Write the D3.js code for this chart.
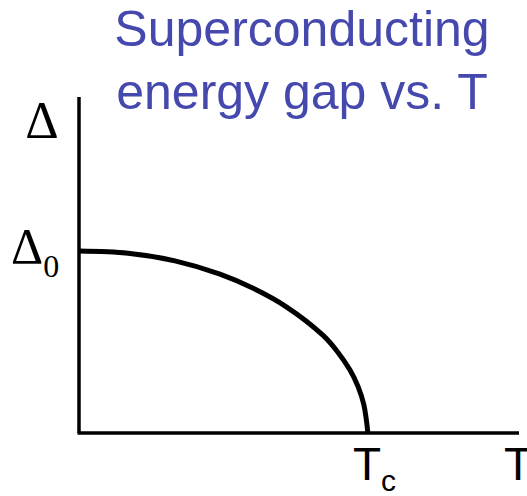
<!DOCTYPE html>
<html>
<head>
<meta charset="utf-8">
<script src="https://cdn.jsdelivr.net/npm/d3@7"></script>
<style>
  body { margin: 0; background: #fff; }
  svg { display: block; }
</style>
</head>
<body>
<div id="chart"></div>
<script>
// gap curve: T/Tc vs delta/delta0
const tRatio = [0, 0.17, 0.332, 0.488, 0.603, 0.719, 0.845, 0.892, 0.938, 0.966, 0.986, 1.0];
const gapRatio = [1.0, 0.988, 0.946, 0.873, 0.795, 0.692, 0.536, 0.452, 0.346, 0.255, 0.155, 0];
const titleLines = ["Superconducting", "energy gap vs. T"];

const width = 527,
  height = 496;

const svg = d3.select("#chart")
  .append("svg")
  .attr("width", width)
  .attr("height", height);

// axis extents go past Tc and delta0
const x = d3.scaleLinear().domain([0, 1.523]).range([79, 519]);
const y = d3.scaleLinear().domain([0, 1.846]).range([433, 97]);

// title
svg.append("g")
  .selectAll("text")
  .data(titleLines)
  .join("text")
  .attr("x", 302)
  .attr("y", (d, i) => 46 + i * 63)
  .attr("text-anchor", "middle")
  .attr("font-family", "Liberation Sans, Arial, sans-serif")
  .attr("font-size", 50)
  .attr("fill", "#4548ad")
  .text(d => d);

// axes, just plain lines
svg.append("line")
  .attr("x1", x(0)).attr("y1", y(0))
  .attr("x2", x(0)).attr("y2", y(1.846))
  .attr("stroke", "#000")
  .attr("stroke-width", 3.5);

svg.append("line")
  .attr("x1", x(0) - 1.5).attr("y1", y(0))
  .attr("x2", x(1.523)).attr("y2", y(0))
  .attr("stroke", "#000")
  .attr("stroke-width", 3.5);

// the curve
const pts = tRatio.map((t, i) => [t, gapRatio[i]]);
const line = d3.line()
  .x(d => x(d[0]))
  .y(d => y(d[1]))
  .curve(d3.curveCatmullRom.alpha(0.5));

svg.append("path")
  .datum(pts)
  .attr("d", line)
  .attr("fill", "none")
  .attr("stroke", "#000")
  .attr("stroke-width", 5);

// labels
const serif = "Liberation Serif, Times New Roman, serif";
const sans = "Liberation Sans, Arial, sans-serif";

svg.append("text")
  .attr("x", 42).attr("y", 138)
  .attr("text-anchor", "middle")
  .attr("font-family", serif)
  .attr("font-size", 52)
  .text("Δ");

const d0 = svg.append("text")
  .attr("x", 11).attr("y", y(1) + 12)
  .attr("font-family", serif)
  .attr("font-size", 50);
d0.append("tspan").text("Δ");
d0.append("tspan").attr("font-size", 32).attr("dy", 14).text("0");

const tc = svg.append("text")
  .attr("x", x(1) - 15).attr("y", 480)
  .attr("font-family", sans)
  .attr("font-size", 46);
tc.append("tspan").text("T");
tc.append("tspan").attr("font-size", 30).attr("dy", 11).text("c");

svg.append("text")
  .attr("x", 518).attr("y", 480)
  .attr("text-anchor", "middle")
  .attr("font-family", sans)
  .attr("font-size", 46)
  .text("T");
</script>
</body>
</html>
